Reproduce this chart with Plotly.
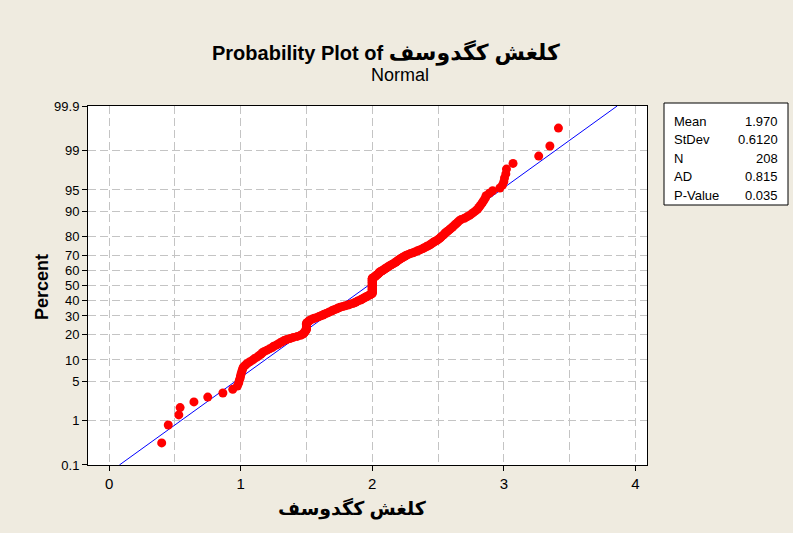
import plotly.graph_objects as go
from statistics import NormalDist

# ---------------- data ----------------
TITLE_MAIN = "Probability Plot of"
TITLE_VAR = "کلغش کگدوسف"
SUBTITLE = "Normal"
X_TITLE = "کلغش کگدوسف"
Y_TITLE = "Percent"

# sorted observations (estimated from the plot), n = 208
values = [
    0.40, 0.45, 0.53, 0.54, 0.645, 0.75, 0.865, 0.94,
    0.975, 0.985, 0.99, 0.997, 1.00, 1.005, 1.01, 1.015, 1.02,
    1.035, 1.05, 1.07, 1.09, 1.105, 1.125, 1.14, 1.155, 1.165, 1.18,
    1.20, 1.22, 1.24, 1.25, 1.27, 1.285, 1.30, 1.315,
    1.33, 1.35, 1.375, 1.40, 1.43, 1.455, 1.47, 1.48, 1.485, 1.49, 1.495,
    1.50, 1.50, 1.50, 1.50, 1.50, 1.50, 1.50, 1.50,
    1.507, 1.515, 1.522, 1.53, 1.545, 1.56, 1.58, 1.595, 1.61, 1.625,
    1.635, 1.65, 1.665, 1.675, 1.69, 1.70, 1.715, 1.73, 1.74, 1.755,
    1.775, 1.795, 1.815, 1.83, 1.85, 1.865, 1.875, 1.885, 1.895, 1.91,
    1.92, 1.93, 1.94, 1.95, 1.96, 1.97, 1.98, 1.99,
    2.00, 2.00, 2.00, 2.00, 2.00, 2.00, 2.00, 2.00, 2.00, 2.00,
    2.00, 2.00, 2.00, 2.00, 2.00, 2.00, 2.00, 2.00, 2.00, 2.00,
    2.00, 2.00, 2.00,
    2.01, 2.02, 2.025, 2.03, 2.04, 2.045, 2.05, 2.055, 2.06, 2.07,
    2.08, 2.09, 2.095, 2.105, 2.115, 2.12, 2.13, 2.14, 2.15, 2.16,
    2.17, 2.18, 2.185, 2.195, 2.20, 2.21, 2.22, 2.23, 2.24, 2.25,
    2.26, 2.275, 2.29, 2.31, 2.325, 2.34, 2.355, 2.37, 2.385, 2.395,
    2.41, 2.42, 2.435, 2.445, 2.455, 2.465, 2.475, 2.49, 2.50, 2.51,
    2.52, 2.525, 2.535, 2.545, 2.55, 2.56, 2.57, 2.58, 2.59, 2.60,
    2.61, 2.62, 2.63, 2.64, 2.65, 2.66, 2.675, 2.70, 2.72, 2.74,
    2.755, 2.77, 2.785, 2.80, 2.81, 2.82, 2.83, 2.84, 2.85, 2.86,
    2.865, 2.89, 2.915, 2.97, 2.99, 3.00, 3.005, 3.015, 3.02, 3.07,
    3.265, 3.35, 3.415,
]

MEAN = 1.970
STDEV = 0.6120
stat_labels = ["Mean", "StDev", "N", "AD", "P-Value"]
stat_values = ["1.970", "0.6120", "208", "0.815", "0.035"]

pct_ticks = [0.1, 1, 5, 10, 20, 30, 40, 50, 60, 70, 80, 90, 95, 99, 99.9]
pct_labels = ["0.1", "1", "5", "10", "20", "30", "40", "50", "60", "70",
              "80", "90", "95", "99", "99.9"]
x_ticks = [0, 1, 2, 3, 4]
x_range = [-0.16, 4.088]

# ---------------- probability scale ----------------
nd = NormalDist()
def pz(pct):
    return nd.inv_cdf(pct / 100.0)

n = len(values)
xs = sorted(values)
pcts = [100.0 * (i - 0.3) / (n + 0.4) for i in range(1, n + 1)]
zs = [pz(p) for p in pcts]

z_lo, z_hi = pz(pct_ticks[0]), pz(pct_ticks[-1])
fit_z = [z_lo, z_hi]
fit_x = [MEAN + STDEV * z for z in fit_z]

# ---------------- figure geometry ----------------
W, H = 793, 533
ML, MR, MT, MB = 88, 146, 106, 68
PW, PH = W - ML - MR, H - MT - MB

def px(x):
    return (x - ML) / PW

def py(y):
    return (H - MB - y) / PH

FONT = "Arial, 'Liberation Sans', 'DejaVu Sans', sans-serif"
BG = "#EFEBE0"
GRID = "#C4C4C4"

fig = go.Figure()
fig.add_trace(go.Scatter(x=fit_x, y=fit_z, mode="lines",
                         line=dict(color="#0000FF", width=1),
                         hoverinfo="skip", showlegend=False))
fig.add_trace(go.Scatter(x=xs, y=zs, mode="markers",
                         marker=dict(color="#FF0000", size=9, line=dict(width=0)),
                         showlegend=False))

fig.update_layout(
    width=W, height=H,
    margin=dict(l=ML, r=MR, t=MT, b=MB, pad=0),
    paper_bgcolor=BG, plot_bgcolor="white",
    font=dict(family=FONT, color="black", size=12),
    showlegend=False,
)
fig.update_xaxes(
    range=x_range, tickvals=x_ticks, ticktext=[str(t) for t in x_ticks],
    showgrid=True, gridcolor=GRID, gridwidth=1, griddash="8px,4px",
    minor=dict(dtick=0.5, tick0=0, showgrid=True, gridcolor=GRID,
               gridwidth=1, griddash="8px,4px", ticks=""),
    ticks="outside", ticklen=5, tickcolor="black", tickwidth=1,
    tickfont=dict(size=15, family=FONT),
    showline=True, linecolor="black", linewidth=1, mirror=True,
    zeroline=False,
)
fig.update_yaxes(
    range=[z_lo - 1e-4, z_hi + 1e-4],
    tickvals=[pz(p) for p in pct_ticks], ticktext=pct_labels,
    showgrid=True, gridcolor=GRID, gridwidth=1, griddash="8px,4px",
    ticks="outside", ticklen=5, tickcolor="black", tickwidth=1,
    tickfont=dict(size=13, family=FONT),
    showline=True, linecolor="black", linewidth=1, mirror=True,
    zeroline=False,
)

ann = []
ann.append(dict(text="<b>" + TITLE_MAIN + " <span style='font-size:22px'>"
                + TITLE_VAR + "</span></b>", x=px(386), y=py(52),
                xref="paper", yref="paper", xanchor="center", yanchor="middle",
                showarrow=False, font=dict(size=20, family=FONT)))
ann.append(dict(text=SUBTITLE, x=px(400), y=py(75),
                xref="paper", yref="paper", xanchor="center", yanchor="middle",
                showarrow=False, font=dict(size=18, family=FONT)))
ann.append(dict(text="<b>" + X_TITLE + "</b>", x=px(352), y=py(508),
                xref="paper", yref="paper", xanchor="center", yanchor="middle",
                showarrow=False, font=dict(size=19, family=FONT)))
ann.append(dict(text="<b>" + Y_TITLE + "</b>", x=px(42), y=py(287),
                xref="paper", yref="paper", xanchor="center", yanchor="middle",
                textangle=-90, showarrow=False, font=dict(size=18, family=FONT)))

row_y = [121, 139.5, 158, 176.5, 195]
for lab, val, ry in zip(stat_labels, stat_values, row_y):
    ann.append(dict(text=lab, x=px(672), y=py(ry), xref="paper", yref="paper",
                    xanchor="left", yanchor="middle", showarrow=False,
                    font=dict(size=13, family=FONT)))
    ann.append(dict(text=val, x=px(780), y=py(ry), xref="paper", yref="paper",
                    xanchor="right", yanchor="middle", showarrow=False,
                    font=dict(size=13, family=FONT)))
fig.update_layout(annotations=ann)

fig.add_shape(type="rect", xref="paper", yref="paper",
              x0=px(664), x1=px(788), y0=py(205), y1=py(103),
              line=dict(color="black", width=1), fillcolor="white", layer="below")

fig.write_html("out.html", config={"displayModeBar": False},
               post_script="document.body.style.margin='0';document.body.style.overflow='hidden';")
